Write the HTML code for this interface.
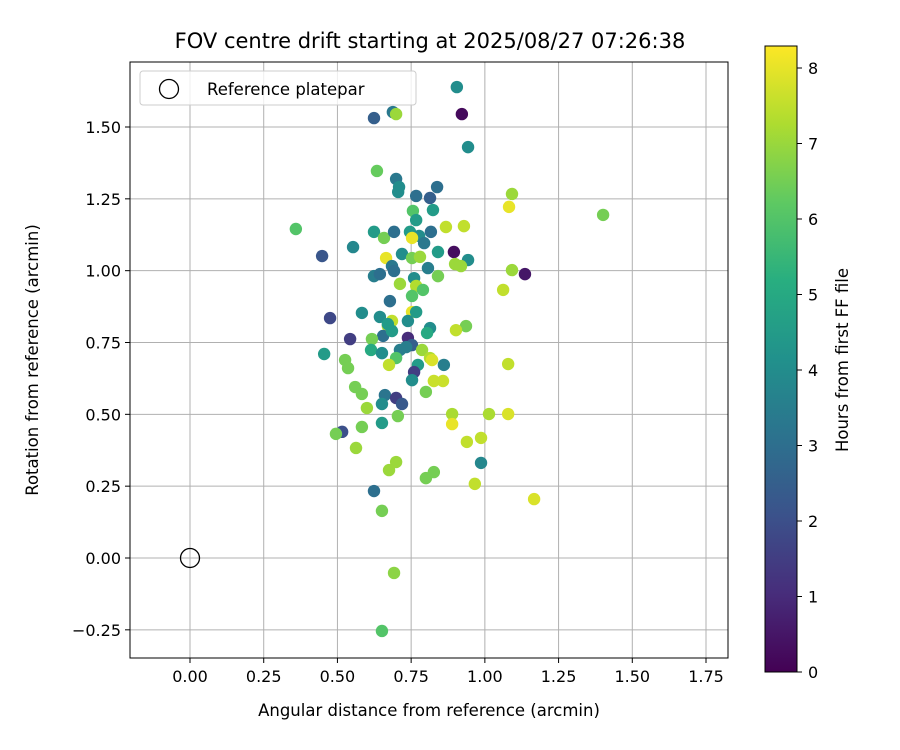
<!DOCTYPE html>
<html><head><meta charset="utf-8"><style>
body{margin:0;background:#fff;}
svg{display:block;font-family:"DejaVu Sans","Liberation Sans",sans-serif;}
</style></head><body>
<svg id="chart" width="900" height="750" viewBox="0 0 900 750">
<defs><linearGradient id="vir" x1="0" y1="1" x2="0" y2="0">
<stop offset="0" stop-color="#440154"/><stop offset="0.125" stop-color="#472d7b"/><stop offset="0.25" stop-color="#3b528b"/><stop offset="0.375" stop-color="#2c728e"/><stop offset="0.5" stop-color="#21918c"/><stop offset="0.625" stop-color="#28ae80"/><stop offset="0.75" stop-color="#5ec962"/><stop offset="0.875" stop-color="#addc30"/><stop offset="1" stop-color="#fde725"/></linearGradient></defs>
<text x="430" y="48" text-anchor="middle" font-size="21">FOV centre drift starting at 2025/08/27 07:26:38</text>
<g id="grid"></g><g id="pts"></g><g id="axes"></g>
</svg>
<script>
const xs=[0.905,0.922,0.688,0.624,0.699,0.943,0.634,0.699,0.709,0.706,0.838,0.814,0.767,1.092,1.082,1.401,0.824,0.756,0.767,0.359,0.624,0.658,0.692,0.746,0.777,0.794,0.817,0.868,0.929,0.753,0.553,0.448,0.665,0.719,0.753,0.780,0.841,0.895,0.943,0.899,0.919,1.092,1.136,0.624,0.644,0.685,0.692,0.807,0.841,0.760,0.712,0.767,0.790,1.062,0.678,0.753,0.475,0.644,0.753,0.767,0.583,0.739,0.685,0.671,0.671,0.814,0.804,0.655,0.685,0.936,0.902,0.543,0.617,0.739,0.753,0.733,0.712,0.455,0.614,0.651,0.699,0.787,0.814,0.773,0.821,0.526,0.536,0.675,0.861,1.079,0.760,0.753,0.827,0.858,0.560,0.800,0.583,0.661,0.699,0.719,0.651,0.600,0.889,1.014,1.079,0.705,0.651,0.583,0.889,0.516,0.495,0.939,0.987,0.563,0.987,0.699,0.675,0.800,0.827,0.966,0.624,1.167,0.651,0.692,0.651];
const ys=[1.639,1.545,1.552,1.531,1.545,1.430,1.347,1.319,1.291,1.274,1.291,1.253,1.260,1.267,1.222,1.194,1.211,1.208,1.176,1.145,1.135,1.114,1.135,1.135,1.121,1.096,1.135,1.152,1.155,1.114,1.082,1.051,1.044,1.058,1.044,1.048,1.065,1.065,1.037,1.023,1.016,1.002,0.988,0.981,0.988,1.016,0.999,1.009,0.981,0.974,0.954,0.947,0.933,0.933,0.894,0.912,0.835,0.839,0.856,0.856,0.853,0.825,0.825,0.807,0.814,0.800,0.783,0.773,0.790,0.807,0.793,0.762,0.762,0.766,0.741,0.734,0.724,0.710,0.724,0.713,0.696,0.724,0.696,0.672,0.689,0.689,0.661,0.672,0.672,0.675,0.647,0.619,0.616,0.616,0.595,0.578,0.571,0.567,0.557,0.536,0.536,0.522,0.501,0.501,0.501,0.494,0.470,0.456,0.466,0.439,0.432,0.404,0.418,0.383,0.331,0.334,0.306,0.278,0.299,0.258,0.233,0.205,0.164,-0.052,-0.254];
const hours=[4,0.2,3.3,2.5,7,4,6.3,3.3,4,4,3,2.5,3,7,8,6.5,4.5,6,4.5,6,4.5,6.5,3,4.5,4,3.3,3,7.5,7.5,8,3.8,2.2,8,4,6.5,7,4.5,0.3,4,7,7,7,0.5,3.5,3,3.3,3,3.5,6.5,4,7,7.3,6,7.5,3,6,1.8,4,8,4.5,4,4,7.5,7.5,4.5,4,5,3,4.5,6.5,7.5,1.5,6.5,1,2.5,3.5,3.5,4.5,5,4,6,7,7.3,4.5,7.8,6.5,6.5,7.5,3.5,7.5,1.5,4,7.6,7.6,6.5,6.5,6.5,3.2,1.5,2.3,4,7,7.2,7.2,7.8,6.5,4.5,6.5,8,2,6.5,7.5,7.5,7,3.8,7,7,6.5,6.5,7.5,3,7.8,6.5,6.8,6];
const xTicks=[0,0.25,0.5,0.75,1,1.25,1.5,1.75];
const yTicks=[-0.25,0,0.25,0.5,0.75,1,1.25,1.5];
const cTicks=[0,1,2,3,4,5,6,7,8];
const L=130,R=728,T=62,B=658;
const X=v=>190+v*294.86, Y=v=>558-v*287.33;
const CB0=672, CBk=(672-68)/8, C=v=>CB0-v*CBk;
const vir=["#440154","#472d7b","#3b528b","#2c728e","#21918c","#28ae80","#5ec962","#addc30","#fde725"];
function hx(c){return [1,3,5].map(i=>parseInt(c.substr(i,2),16));}
function cmap(h){let t=Math.max(0,Math.min(1,h/8.27))*8;let i=Math.min(7,Math.floor(t)),f=t-i;let a=hx(vir[i]),b=hx(vir[i+1]);return "rgb("+a.map((v,k)=>Math.round(v+(b[k]-v)*f)).join(",")+")";}
const NS="http://www.w3.org/2000/svg";
function mk(p,tag,at,txt){const e=document.createElementNS(NS,tag);for(const k in at)e.setAttribute(k,at[k]);if(txt!=null)e.textContent=txt;p.appendChild(e);return e;}
const g=document.getElementById('grid'),P=document.getElementById('pts'),A=document.getElementById('axes');
xTicks.forEach(t=>{const e=mk(g,'line',{x1:X(t),x2:X(t),y1:T,y2:B,stroke:'#b0b0b0','stroke-width':1});


mk(A,'line',{x1:X(t),x2:X(t),y1:B,y2:B+5,stroke:'#000'});
const l=mk(A,'text',{x:X(t),y:B+24,'text-anchor':'middle','font-size':16},t.toFixed(2));

});
yTicks.forEach(t=>{const e=mk(g,'line',{x1:L,x2:R,y1:Y(t),y2:Y(t),stroke:'#b0b0b0','stroke-width':1});


mk(A,'line',{x1:L-5,x2:L,y1:Y(t),y2:Y(t),stroke:'#000'});
const l=mk(A,'text',{x:L-9,y:Y(t)+6,'text-anchor':'end','font-size':16},(t<0?'\u2212':'')+Math.abs(t).toFixed(2));

});
xs.forEach((x,i)=>{const c=mk(P,'circle',{cx:X(x),cy:Y(ys[i]),r:6.2,fill:cmap(hours[i])});

});
const ref=mk(P,'circle',{cx:X(0),cy:Y(0),r:9.5,fill:'none',stroke:'#000','stroke-width':1.3});


const fr=mk(A,'rect',{x:L,y:T,width:R-L,height:B-T,fill:'none',stroke:'#000','stroke-width':1});


const lg=mk(A,'g',{});


mk(lg,'rect',{x:140,y:71,width:276,height:34,rx:3,fill:'#fff','fill-opacity':0.8,stroke:'#ccc'});
mk(lg,'circle',{cx:169,cy:89,r:9.5,fill:'none',stroke:'#000','stroke-width':1.3});
mk(lg,'text',{x:207,y:95,'font-size':16.5},'Reference platepar');
const xl=mk(A,'text',{x:429,y:716,'text-anchor':'middle','font-size':16.5},'Angular distance from reference (arcmin)');


const yl=mk(A,'text',{x:0,y:0,'text-anchor':'middle','font-size':16.5,transform:'translate(38,360) rotate(-90)'},'Rotation from reference (arcmin)');


const cb=mk(A,'rect',{x:765,y:46,width:32,height:626,fill:'url(#vir)',stroke:'#000','stroke-width':1});


cTicks.forEach(t=>{mk(A,'line',{x1:797,x2:802,y1:C(t),y2:C(t),stroke:'#000'});
const l=mk(A,'text',{x:808,y:C(t)+6,'font-size':16},String(t));

});
const cl=mk(A,'text',{x:0,y:0,'text-anchor':'middle','font-size':16.5,transform:'translate(848,360) rotate(-90)'},'Hours from first FF file');


</script>
</body></html>
